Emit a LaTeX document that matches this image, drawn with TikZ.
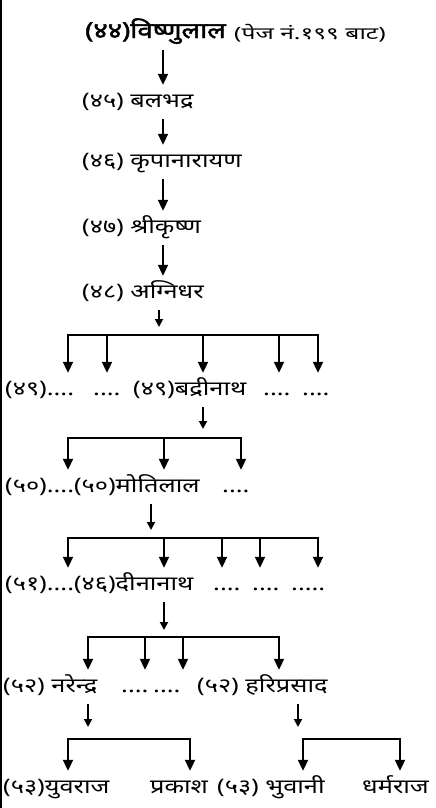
\documentclass[tikz,border=0pt]{standalone}
\usepackage{fontspec}
\newfontfamily\deva[Script=Devanagari, FakeStretch=1.27]{Noto Sans}
\newfontfamily\devab[Script=Devanagari, FakeStretch=1.25, FakeBold=2]{Noto Sans}
\newfontfamily\devas[Script=Devanagari, FakeStretch=1.45]{Noto Sans}
\usetikzlibrary{arrows.meta}

\begin{document}
\begin{tikzpicture}[x=1pt,y=-1pt,
    txt/.style={anchor=west, inner xsep=0pt, inner ysep=7pt,
        text height=15pt, text depth=5pt, font=\deva\fontsize{20}{22}\selectfont},
    arr/.style={line width=2pt, -{Triangle[width=10pt,length=11pt]}},
    sarr/.style={line width=1.8pt, -{Triangle[width=8pt,length=8pt]}},
    bar/.style={line width=2pt, line cap=rect}]
    \useasboundingbox (0,0) rectangle (436,808);
    % Draw left rule
    \draw[line width=2.5pt] (1.2,0) -- (1.2,808);

    % Draw first generations
    \node[txt, font=\devab\fontsize{22}{24}\selectfont] (n44) at (85,33) {(४४)विष्णुलाल};
    \node[txt, font=\devas\fontsize{17}{19}\selectfont] (pg) at (234,35) {(पेज नं.१९९ बाट)};
    \node[txt] (n45) at (82,102) {(४५) बलभद्र};
    \node[txt] (n46) at (82,162) {(४६) कृपानारायण};
    \node[txt] (n47) at (82,228) {(४७) श्रीकृष्ण};
    \node[txt] (n48) at (82,293) {(४८) अग्निधर};
    \draw[arr] (n44.south -| 163,0) -- (n45.north -| 163,0);
    \draw[arr] (n45.south -| 163,0) -- (n46.north -| 163,0);
    \draw[arr] (n46.south -| 163,0) -- (n47.north -| 163,0);
    \draw[arr] (n47.south -| 163,0) -- (n48.north -| 163,0);

    % Draw row (49)
    \node[txt] (r49a) at (5,390) {(४९)....};
    \node[txt] (r49b) at (93,390) {....};
    \node[txt] (r49c) at (133,390) {(४९)बद्रीनाथ};
    \node[txt] (r49d) at (263,390) {....};
    \node[txt] (r49e) at (302,390) {....};
    \coordinate (b49l) at (68,335);
    \coordinate (b49r) at (318,335);
    \draw[sarr] (n48.south -| 159,0) -- ([yshift=8pt]b49l -| 159,0);
    \draw[bar] (b49l) -- (b49r);
    \foreach \x in {68,107,203,279,318}
        \draw[arr] (b49l -| \x,0) -- (r49a.north -| \x,0);

    % Draw row (50)
    \node[txt] (r50a) at (5,487) {(५०)....(५०)मोतिलाल};
    \node[txt] (r50c) at (222,487) {....};
    \coordinate (b50l) at (68,438);
    \coordinate (b50r) at (241,438);
    \draw[sarr] (r49c.south -| 203,0) -- ([yshift=9pt]b50l -| 203,0);
    \draw[bar] (b50l) -- (b50r);
    \foreach \x in {68,164,241}
        \draw[arr] (b50l -| \x,0) -- (r50a.north -| \x,0);

    % Draw row (51)
    \node[txt] (r51a) at (5,585) {(५१)....(४६)दीनानाथ};
    \node[txt] (r51c) at (213,585) {....};
    \node[txt] (r51d) at (252,585) {....};
    \node[txt] (r51e) at (291,585) {.....};
    \coordinate (b51l) at (68,538);
    \coordinate (b51r) at (318,538);
    \draw[sarr] (r50a.south -| 151,0) -- ([yshift=8pt]b51l -| 151,0);
    \draw[bar] (b51l) -- (b51r);
    \foreach \x in {68,164,222,260,318}
        \draw[arr] (b51l -| \x,0) -- (r51a.north -| \x,0);

    % Draw row (52)
    \node[txt] (r52a) at (3,687) {(५२) नरेन्द्र};
    \node[txt] (r52b) at (121,687) {....};
    \node[txt] (r52c) at (153,687) {....};
    \node[txt] (r52d) at (197,687) {(५२) हरिप्रसाद};
    \coordinate (b52l) at (88,637);
    \coordinate (b52r) at (279,637);
    \draw[sarr] (r51a.south -| 164,0) -- ([yshift=7pt]b52l -| 164,0);
    \draw[bar] (b52l) -- (b52r);
    \foreach \x in {88,145,183,279}
        \draw[arr] (b52l -| \x,0) -- (r52a.north -| \x,0);

    % Draw row (53)
    \node[txt] (r53a) at (3,788) {(५३)युवराज};
    \node[txt] (r53b) at (150,788) {प्रकाश};
    \node[txt] (r53c) at (217,788) {(५३) भुवानी};
    \node[txt] (r53d) at (362,788) {धर्मराज};
    \coordinate (b53l) at (68,739);
    \coordinate (b53m) at (190,739);
    \coordinate (b53n) at (303,739);
    \coordinate (b53r) at (400,739);
    \draw[sarr] (r52a.south -| 88,0) -- ([yshift=12pt]b53l -| 88,0);
    \draw[sarr] (r52d.south -| 298,0) -- ([yshift=12pt]b53n -| 298,0);
    \draw[bar] (b53l) -- (b53m);
    \draw[bar] (b53n) -- (b53r);
    \foreach \x in {68,190,303,400}
        \draw[arr] (b53l -| \x,0) -- (r53a.north -| \x,0);
\end{tikzpicture}
\end{document}
